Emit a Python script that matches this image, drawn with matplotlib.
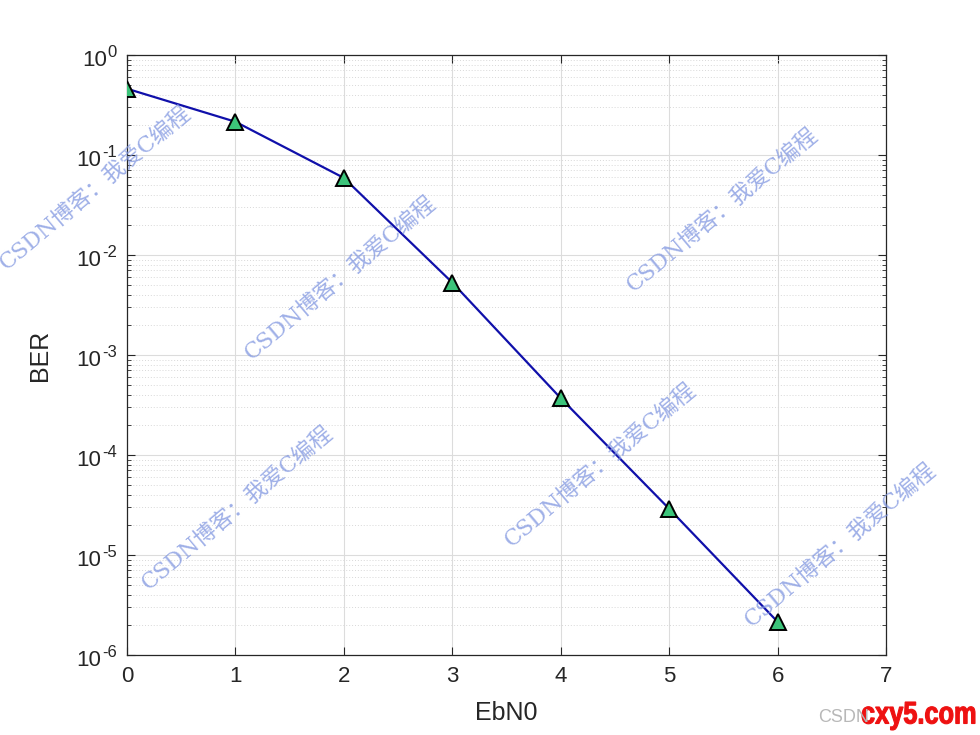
import numpy as np
import matplotlib.pyplot as plt
from matplotlib.ticker import LogLocator, NullFormatter
from matplotlib.textpath import TextPath
from matplotlib.patches import PathPatch
from matplotlib.font_manager import FontProperties
from matplotlib.transforms import Affine2D, ScaledTranslation, blended_transform_factory

# BER simulation results
ebn0 = [0, 1, 2, 3, 4, 5, 6]
ber = [0.46, 0.215, 0.059, 0.0053, 3.7e-4, 2.9e-5, 2.15e-6]
y_exps = [0, -1, -2, -3, -4, -5, -6]

# watermark centres (figure pixels, from top-left)
wm_text = 'CSDN博客：我爱C编程'
wm_x = [95, 340, 722, 237, 600, 840]
wm_y = [188, 278, 210, 508, 465, 545]

W, H = 980, 735
fig = plt.figure(figsize=(W / 100, H / 100), dpi=100)
ax = fig.add_axes([127 / W, 1 - 655 / H, (886 - 127) / W, (655 - 55) / H])

ax.semilogy(ebn0, ber, '-', color='#1010aa', lw=1.6, zorder=3)
ax.semilogy(ebn0, ber, '^', ms=12, mfc='#3cc47a', mec='black', mew=1.4, zorder=4)

ax.set_xlim(0, 7)
ax.set_ylim(1e-6, 1)
ax.set_xticks(range(8))
ax.set_yticks([10.0 ** e for e in y_exps])
ax.set_yticklabels([])
ax.yaxis.set_minor_locator(LogLocator(base=10, subs=np.arange(2, 10), numticks=20))
ax.yaxis.set_minor_formatter(NullFormatter())

ax.grid(True, which='major', color='#dcdcdc', lw=0.8)
ax.grid(True, which='minor', axis='y', color='#d8d8d8', lw=0.7, ls=(0, (1, 2)))
ax.set_axisbelow(True)

ax.tick_params(which='both', direction='in', top=True, right=True, labelsize=16,
               colors='#262626')
ax.tick_params(which='major', length=6, pad=8)
ax.tick_params(which='minor', length=3)
for s in ax.spines.values():
    s.set_color('#262626')
    s.set_linewidth(0.9)
for lab in ax.get_xticklabels():
    lab.set_family('Liberation Sans')

ax.set_xlabel('EbN0', fontsize=18, family='Liberation Sans', color='#262626', labelpad=10)
ax.set_ylabel('BER', fontsize=18, family='Liberation Sans', color='#262626', labelpad=46)

# y tick labels as 10 + raised exponent (MATLAB look, short hyphen)
bt = blended_transform_factory(ax.transAxes, ax.transData)
renderer = fig.canvas.get_renderer()
for e in y_exps:
    off = ScaledTranslation(-10 / 100, -5 / 100, fig.dpi_scale_trans)
    t_exp = ax.text(0, 10.0 ** e, str(e), transform=bt + off,
                    ha='right', va='bottom', fontsize=12, family='Liberation Sans', color='#262626')
    w = t_exp.get_window_extent(renderer).width
    off2 = ScaledTranslation(-(11 + w) / 100, -6 / 100, fig.dpi_scale_trans)
    ax.text(0, 10.0 ** e, '10', transform=bt + off2, ha='right', va='center',
            fontsize=16, family='Liberation Sans', color='#262626')

# watermarks
for x, y in zip(wm_x, wm_y):
    fig.text(x / W, 1 - y / H, wm_text, rotation=40, ha='center', va='center',
             fontsize=16, color='#7f95e0', alpha=0.75,
             family=['DejaVu Serif', 'Noto Sans CJK SC'], zorder=10)

fig.text(818 / W, 1 - 718 / H, 'CSDN', fontsize=13, color='#b8b8b8',
         family='Liberation Sans', va='center')

# condensed bold red site logo
tp = TextPath((0, 0), 'cxy5.com', size=30, prop=FontProperties(family='Liberation Sans', weight='bold'))
bb = tp.get_extents()
tr = Affine2D().translate(-bb.x0, -bb.y0).scale(113 / bb.width, 28 / bb.height).translate(862, H - 730)
logo = PathPatch(tp, fc='#ee1111', ec='#ee1111', lw=0.8)
logo.set_transform(tr)
fig.patches.append(logo)

fig.savefig('out.png', dpi=100, facecolor='white')
